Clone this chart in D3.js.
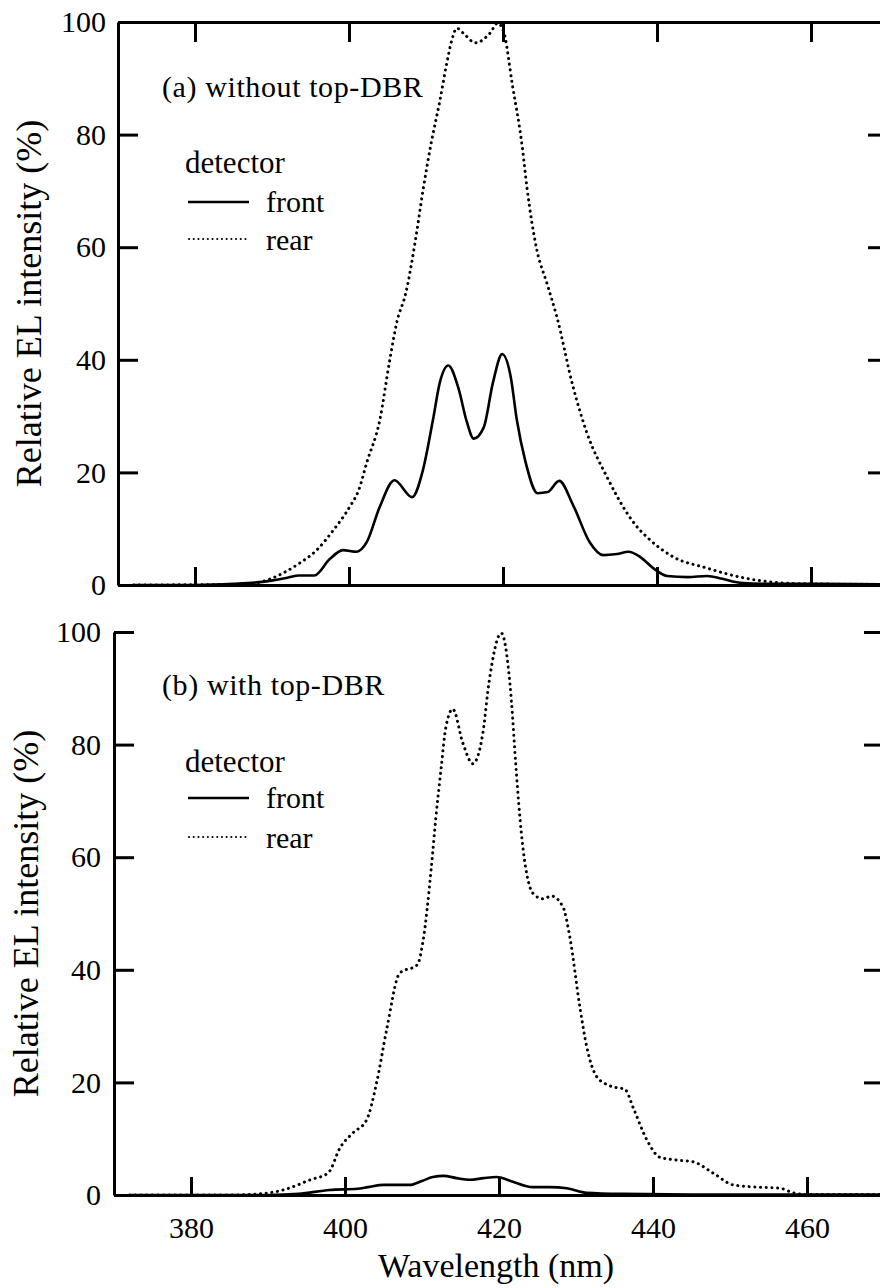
<!DOCTYPE html>
<html>
<head>
<meta charset="utf-8">
<script src="https://cdn.jsdelivr.net/npm/d3@7"></script>
<style>
  html, body { margin: 0; padding: 0; background: #fff; }
</style>
</head>
<body>
<script>
// wavelength ticks and intensity ticks
var xTicks = [380, 400, 420, 440, 460];
var yTicks = [0, 20, 40, 60, 80, 100];

// (a) without top-DBR -- front detector
var aFrontNm  = [372, 380, 385, 389, 392, 393.5, 395.5, 397.5, 399.2, 401, 402.3, 404, 405.9, 408.2, 409.6, 410.9, 411.8, 412.9, 414.2, 415.3, 416.2, 417.5, 418.7, 419.9, 421, 421.8, 422.9, 424.5, 425.8, 427.3, 429.1, 431.3, 433, 434.8, 436.3, 437.8, 439.5, 441.3, 444, 446.5, 448.5, 450.8, 455, 460, 470];
var aFrontVal = [0, 0, 0.2, 0.6, 1.3, 1.7, 1.7, 4.6, 6.2, 5.9, 7.6, 13.9, 18.6, 15.6, 20.4, 29.3, 36, 39, 35, 29, 26, 28, 36, 41, 37, 29.3, 22, 16.3, 16.5, 18.5, 14.2, 7.5, 5.3, 5.5, 5.9, 5, 3, 1.6, 1.4, 1.6, 1.1, 0.4, 0.2, 0.2, 0.1];

// (a) without top-DBR -- rear detector
var aRearNm  = [372, 385, 388, 391.4, 393.5, 395.8, 398, 400.1, 401.3, 402.3, 404, 405.3, 406.2, 407.4, 408.6, 409.6, 410.6, 411.8, 412.7, 413.4, 414, 415, 416.4, 418.3, 419.3, 420.1, 421.2, 422.5, 423.1, 424.4, 425.7, 427, 429.1, 430.9, 433.5, 436.1, 437.3, 438.7, 442.1, 446.5, 450.8, 455.1, 459.5, 470];
var aRearVal = [0, 0.1, 0.4, 2.1, 3.8, 6.2, 9.8, 13.9, 17, 21.7, 29.3, 40, 46.6, 52, 61, 70, 78, 86, 92.7, 97, 98.9, 97.8, 96.3, 98, 99.8, 98.2, 89, 77.8, 70.7, 59.5, 53.6, 47.6, 35.2, 27, 19.2, 12.8, 10.5, 8.5, 5, 3, 1.4, 0.5, 0.2, 0.1];

// (b) with top-DBR -- front detector
var bFrontNm  = [372, 390, 394, 398, 401.6, 403, 405, 408.4, 410, 411.4, 412.8, 414.5, 416.2, 418, 419.7, 421.5, 424.4, 426.6, 428.8, 431.4, 436, 445, 470];
var bFrontVal = [0, 0, 0.2, 0.9, 1.1, 1.4, 1.8, 1.8, 2.5, 3.2, 3.4, 3.0, 2.7, 3.0, 3.2, 2.5, 1.4, 1.4, 1.2, 0.4, 0.2, 0.1, 0.1];

// (b) with top-DBR -- rear detector
var bRearNm  = [372, 385, 387.7, 392, 395.5, 397.8, 399.4, 401, 402.8, 404.1, 405.4, 407.1, 409.4, 410.1, 411.2, 411.8, 412.5, 413.1, 414, 415.3, 416.6, 417.9, 418.7, 420.3, 421.2, 421.6, 422.2, 422.9, 424.4, 425.7, 426.8, 428.3, 429.2, 430.5, 431.4, 432.7, 434.4, 436.4, 437.4, 439.2, 440.9, 443.1, 445.2, 447.8, 450.4, 453.5, 456.5, 458.2, 460, 470];
var bRearVal = [0, 0, 0.1, 0.9, 2.7, 3.9, 8.5, 11, 13.3, 19.9, 29.3, 39.4, 40.9, 44.8, 58, 67, 76, 83.1, 86.3, 80.3, 76.6, 82, 91, 99.8, 93.8, 87.9, 76, 64.3, 53.6, 52.6, 53.1, 51.2, 45.8, 33.4, 26.3, 21, 19.4, 18.7, 15.6, 9.8, 6.7, 6.2, 5.9, 3.9, 1.8, 1.4, 1.2, 0.4, 0.1, 0.1];

var width = 880, height = 1288;
var serif = "'Liberation Serif'";

var svg = d3.select("body").append("svg")
    .attr("width", width)
    .attr("height", height);

function zip(nm, val) {
  return nm.map(function(d, i) { return {x: d, y: val[i]}; });
}

function label(g, x, y, size, str) {
  return g.append("text")
      .attr("x", x).attr("y", y)
      .attr("font-family", serif)
      .attr("font-size", size)
      .attr("fill", "#000")
      .text(str);
}

function panel(p) {
  var x = d3.scaleLinear().domain([370, 470]).range([p.left, p.left + 770]);
  var y = d3.scaleLinear().domain([0, 100]).range([p.bottom, p.top]);
  var g = svg.append("g");

  var line = d3.line()
      .x(function(d) { return x(d.x); })
      .y(function(d) { return y(d.y); })
      .curve(d3.curveMonotoneX);

  // left axis
  var left = g.append("g")
      .attr("transform", "translate(" + p.left + ",0)")
      .call(d3.axisLeft(y).tickValues(yTicks).tickSize(-20).tickSizeOuter(0).tickPadding(p.labelPad));
  // right axis (sits just outside the window)
  var right = g.append("g")
      .attr("transform", "translate(" + (p.left + 770) + ",0)")
      .call(d3.axisRight(y).tickValues(yTicks).tickSize(-20).tickSizeOuter(0).tickFormat(""));
  // bottom axis
  var bottom = g.append("g")
      .attr("transform", "translate(0," + p.bottom + ")")
      .call(d3.axisBottom(x).tickValues(xTicks).tickSize(-18).tickSizeOuter(0).tickPadding(22)
        .tickFormat(p.xLabels ? d3.format("d") : ""));
  var axes = [left, right, bottom];
  if (p.topBorder) {
    axes.push(g.append("g")
      .attr("transform", "translate(0," + p.top + ")")
      .call(d3.axisTop(x).tickValues(xTicks).tickSize(-20).tickSizeOuter(0).tickFormat("")));
  }
  axes.forEach(function(a) {
    a.attr("font-family", serif).attr("font-size", 30);
    a.selectAll("path, line").attr("stroke", "#000").attr("stroke-width", 3);
    a.selectAll("text").attr("fill", "#000").attr("font-family", serif);
  });

  // spectra
  g.append("path")
      .datum(zip(p.rearNm, p.rearVal))
      .attr("d", line)
      .attr("fill", "none")
      .attr("stroke", "#000")
      .attr("stroke-width", 3)
      .attr("stroke-linecap", "round")
      .attr("stroke-dasharray", "0.1 5.6");
  g.append("path")
      .datum(zip(p.frontNm, p.frontVal))
      .attr("d", line)
      .attr("fill", "none")
      .attr("stroke", "#000")
      .attr("stroke-width", 2.6);

  // y title
  label(g, 0, 0, 36, "Relative EL intensity (%)")
      .attr("transform", "translate(" + p.titleX + "," + ((p.top + p.bottom) / 2) + ") rotate(-90)")
      .attr("text-anchor", "middle");

  // panel label and legend
  label(g, 162, p.top + p.lab[0], 30, p.label).attr("letter-spacing", 0.6);
  label(g, 185, p.top + p.lab[1], 31, "detector");
  g.append("line")
      .attr("x1", 188).attr("x2", 249)
      .attr("y1", p.top + p.lab[2]).attr("y2", p.top + p.lab[2])
      .attr("stroke", "#000").attr("stroke-width", 2.4);
  label(g, 266, p.top + p.lab[2] + 10, 30, "front");
  g.append("line")
      .attr("x1", 189).attr("x2", 249)
      .attr("y1", p.top + p.lab[3]).attr("y2", p.top + p.lab[3])
      .attr("stroke", "#000").attr("stroke-width", 2)
      .attr("stroke-linecap", "round")
      .attr("stroke-dasharray", "0.1 4.6");
  label(g, 266, p.top + p.lab[3] + 11, 30, "rear");
}

panel({
  left: 118, top: 22, bottom: 585, labelPad: 12, titleX: 41,
  topBorder: true, xLabels: false,
  label: "(a) without top-DBR", lab: [75, 151, 180, 217],
  frontNm: aFrontNm, frontVal: aFrontVal, rearNm: aRearNm, rearVal: aRearVal
});

panel({
  left: 114, top: 632, bottom: 1195, labelPad: 13, titleX: 38,
  topBorder: false, xLabels: true,
  label: "(b) with top-DBR", lab: [63, 140, 166, 205],
  frontNm: bFrontNm, frontVal: bFrontVal, rearNm: bRearNm, rearVal: bRearVal
});

label(svg, 496, 1277, 34, "Wavelength (nm)")
    .attr("text-anchor", "middle");
</script>
</body>
</html>
